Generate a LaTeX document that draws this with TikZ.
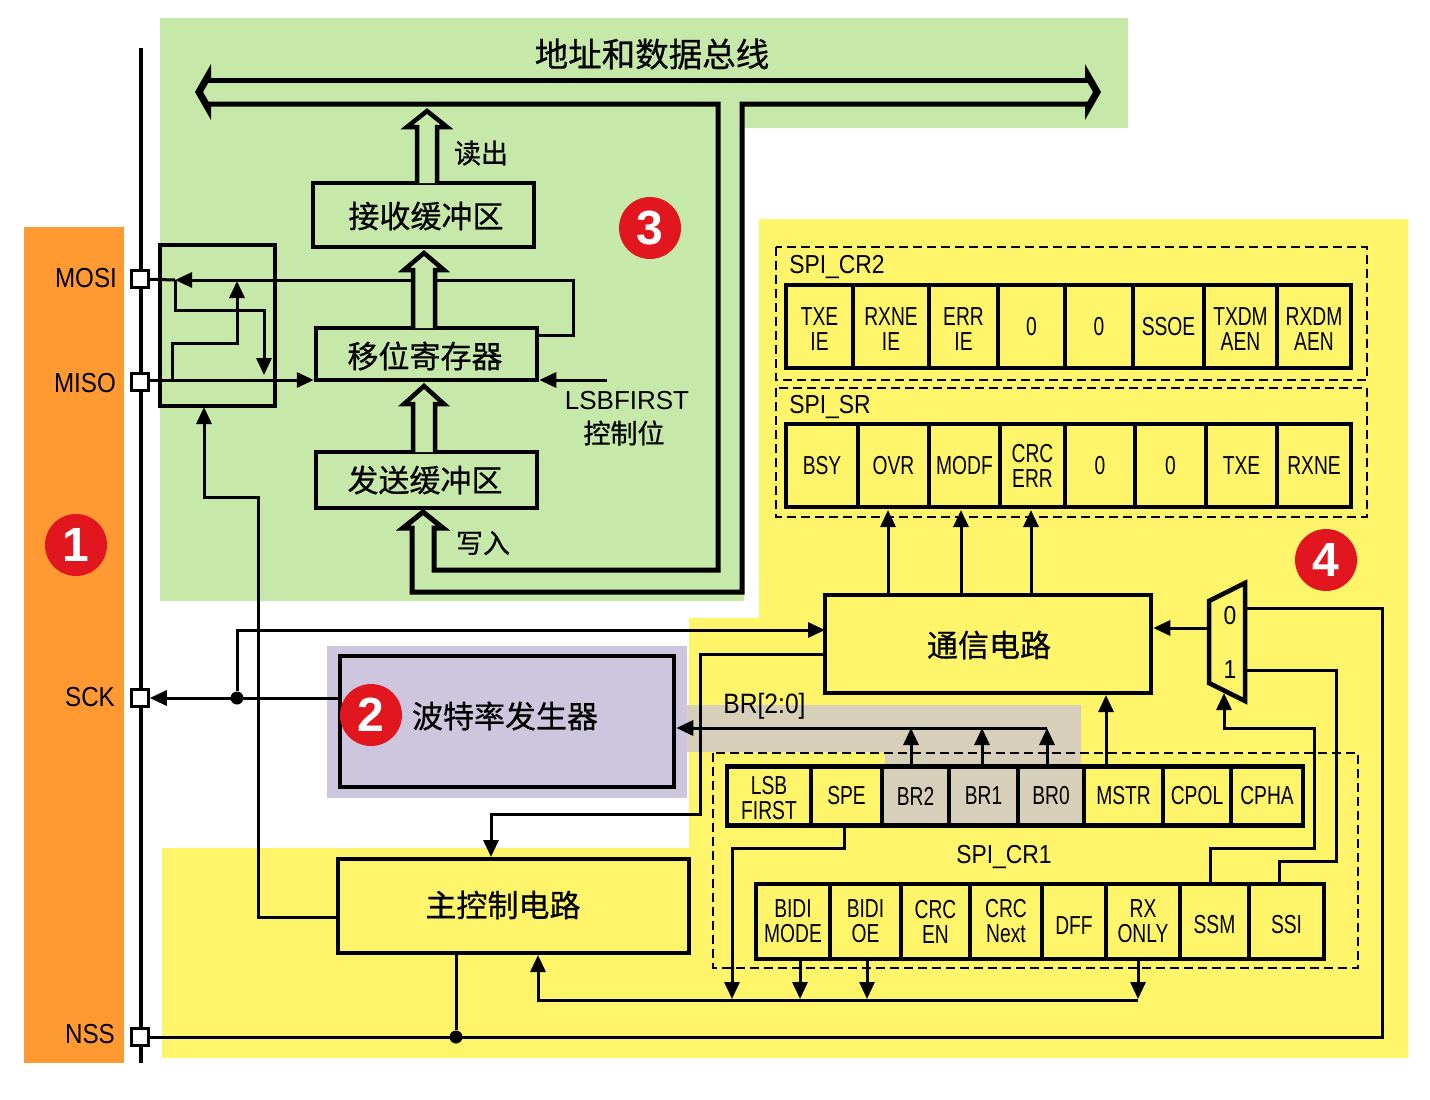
\documentclass[tikz,border=0pt]{standalone}
\usepackage{fontspec}
\usepackage{xcolor}
\usetikzlibrary{arrows.meta}
\setmainfont{Liberation Sans}
\newfontfamily\cjk[FakeBold=0.6]{Noto Sans CJK SC}
\newfontfamily\cellfont[FakeStretch=0.74]{Liberation Sans}
\newfontfamily\pinfont[FakeStretch=0.88]{Liberation Sans}
\definecolor{pinbg}{HTML}{FF9A33}
\definecolor{bufbg}{HTML}{C6E8A9}
\definecolor{regbg}{HTML}{FFF56A}
\definecolor{baudbg}{HTML}{CEC6DE}
\definecolor{brbg}{HTML}{D7CFB9}
\definecolor{badgered}{HTML}{E2161F}
\tikzset{
    >={Triangle[length=17pt,width=15pt]},
    wire/.style={line width=3pt},
    thickbox/.style={draw,line width=4.5pt,inner sep=0pt,line join=miter},
    regcell/.style={thickbox,align=center,font=\cellfont\fontsize{26}{25}\selectfont},
    pinbox/.style={draw,line width=2.5pt,fill=white,minimum size=17pt,inner sep=0pt},
    joindot/.style={circle,fill=black,minimum size=13pt,inner sep=0pt},
    badge/.style={circle,fill=badgered,text=white,minimum size=62pt,inner sep=0pt,font=\bfseries\fontsize{48}{48}\selectfont},
    pinlabel/.style={font=\pinfont\fontsize{27.5}{27.5}\selectfont},
    cjklabel/.style={font=\cjk\fontsize{31}{31}\selectfont},
    cjksmall/.style={font=\cjk\fontsize{27}{27}\selectfont},
    reglabel/.style={font=\pinfont\fontsize{26}{26}\selectfont},
    dashbox/.style={draw,dashed,line width=2.2pt,dash pattern=on 9pt off 5pt},
}
\begin{document}
\begin{tikzpicture}[x=1pt,y=-1pt]
    \useasboundingbox (0,0) rectangle (1430,1100);

    \fill[pinbg] (24,227) rectangle (124,1063);
    \fill[bufbg] (160,18) -- (1128,18) -- (1128,128) -- (744,128) -- (744,601) -- (160,601) -- cycle;
    \fill[regbg] (759,219) -- (1408,219) -- (1408,1058) -- (162,1058) -- (162,848) -- (689,848) -- (689,618) -- (759,618) -- cycle;
    \fill[baudbg] (327,646) rectangle (687,798);
    \fill[brbg] (687,705) -- (1081,705) -- (1081,770) -- (885,770) -- (885,752) -- (687,752) -- cycle;

    \draw[line width=3.5pt] (141,48) -- (141,1063);

    \node[pinbox] (mosi) at (140,279) {};
    \node[pinbox] (miso) at (140,382) {};
    \node[pinbox] (sck) at (140,698) {};
    \node[pinbox] (nss) at (140,1037) {};
    \node[pinlabel] (mosilabel) at (86,278) {MOSI};
    \node[pinlabel] (misolabel) at (85,383) {MISO};
    \node[pinlabel] (scklabel) at (90,697) {SCK};
    \node[pinlabel] (nsslabel) at (90,1034) {NSS};

    \node[thickbox,minimum width=221pt,minimum height=64pt] (rxbuf) at (423.5,215) {};
    \node[thickbox,minimum width=221pt,minimum height=52pt] (shiftreg) at (426.5,354) {};
    \node[thickbox,minimum width=221pt,minimum height=56pt] (txbuf) at (426.5,480) {};
    \node[thickbox,minimum width=115pt,minimum height=161pt] (pinmux) at (217.5,325.5) {};
    \node[thickbox,minimum width=334pt,minimum height=131pt] (baud) at (507,721.5) {};
    \node[thickbox,minimum width=351pt,minimum height=94pt] (mainctrl) at (513.5,906) {};
    \node[thickbox,minimum width=326pt,minimum height=98pt] (comm) at (988,644) {};

    \node[cjklabel] (rxtext) at (426,216) {接收缓冲区};
    \node[cjklabel] (shifttext) at (425,356) {移位寄存器};
    \node[cjklabel] (txtext) at (425,480) {发送缓冲区};
    \node[cjklabel] (baudtext) at (505,716) {波特率发生器};
    \node[cjklabel] (maintext) at (503,905) {主控制电路};
    \node[cjklabel] (commtext) at (989,645) {通信电路};
    \node[font=\cjk\fontsize{33.5}{33.5}\selectfont] (bustext) at (652,54) {地址和数据总线};
    \node[cjksmall] (readtext) at (481,153) {读出};
    \node[cjksmall] (writetext) at (483,543) {写入};
    \node[font=\fontsize{26}{26}\selectfont] (lsbtext) at (627,401) {LSBFIRST};
    \node[cjksmall] (lsbctext) at (624,433) {控制位};

    \coordinate (fbk) at (573,335);
    \coordinate (mosijoin) at (175,280);
    \coordinate (mosiroute) at (264,310);
    \coordinate (muxdown) at (264,375);
    \coordinate (misoroute) at (172,343);
    \coordinate (misotap) at (172,380);
    \coordinate (muxup) at (237,281);
    \coordinate (lsbin) at (607,380);
    \coordinate (ctrlout) at (338,917);
    \coordinate (muxroute) at (258,497);
    \coordinate (muxin) at (204,407);
    \coordinate (commin) at (825,630);
    \coordinate (commout) at (825,654);
    \coordinate (ctrlroute) at (700,814);
    \coordinate (maintap) at (491,857);

    \draw[wire,->] (shiftreg.east |- fbk) -- (fbk) |- (mosijoin);
    \draw[wire] (mosi) -- (mosijoin);
    \draw[wire,->] (mosijoin) |- (mosiroute) -- (muxdown);
    \draw[wire,->] (misotap) -- (misoroute) -| (muxup);
    \draw[wire,->] (miso.east |- misotap) -- (shiftreg.west |- misotap);
    \draw[wire,->] (lsbin) -- (shiftreg.east |- lsbin);
    \draw[wire,->] (ctrlout) -| (muxroute) -| (muxin);
    \draw[wire,->] (baud.west |- sck) -- (sck.east);
    \node[joindot] (sckdot) at (237,698) {};
    \draw[wire,->] (sckdot) |- (commin);
    \draw[wire,->] (commout) -| (ctrlroute) -| (maintap);

    \foreach \cx/\ty/\by/\ey/\hw in {427/111/127/183/10,424/253/270/328/11,424/386/404/452/11}{
        \draw[line width=4.5pt,fill=bufbg] (\cx-\hw,\ey) -- (\cx-\hw,\by) -- (\cx-20,\by) -- (\cx,\ty) -- (\cx+20,\by) -- (\cx+\hw,\by) -- (\cx+\hw,\ey);
    }
    \fill (211,64) -- (195,92) -- (211,120) -- (211,106) -- (203,92) -- (211,78) -- cycle;
    \fill (1085,64) -- (1101,92) -- (1085,120) -- (1085,106) -- (1093,92) -- (1085,78) -- cycle;
    \draw[line width=5pt] (208,80) -- (1088,80);
    \draw[line width=5pt] (208,104) -- (718,104) -- (718,570) -- (434,570) -- (434,528) -- (443,528) -- (423,512) -- (403,528) -- (412,528) -- (412,592) -- (742,592) -- (742,104) -- (1088,104);

    \draw[dashbox] (776,247) rectangle (1367,380);
    \draw[dashbox] (776,388) rectangle (1367,517);
    \draw[dashbox] (713,753) rectangle (1358,968);
    \node[reglabel] (crtwotext) at (837,267) {SPI\_CR2};
    \node[reglabel] (srtext) at (830,407) {SPI\_SR};
    \node[reglabel] (cronetext) at (1004,857) {SPI\_CR1};
    \node[reglabel,font=\pinfont\fontsize{28}{28}\selectfont] (brtext) at (764.5,706) {BR[2:0]};

    \foreach \cellname/\xa/\xb/\celltext in {txeie/786/853/{\rule{0pt}{23pt}TXE\\IE},rxneie/853/929/{\rule{0pt}{23pt}RXNE\\IE},errie/929/998/{\rule{0pt}{23pt}ERR\\IE},crtwozeroa/998/1065/0,crtwozerob/1065/1133/0,ssoe/1133/1204/SSOE,txdmaen/1204/1277/{\rule{0pt}{23pt}TXDM\\AEN},rxdmaen/1277/1351/{\rule{0pt}{23pt}RXDM\\AEN}}{
        \node[regcell,fill=regbg,minimum width=\xb-\xa,minimum height=83pt] (\cellname) at ({(\xa+\xb)/2},326.5) {\celltext};
    }
    \foreach \cellname/\xa/\xb/\celltext in {bsy/786/858/BSY,ovr/858/929/OVR,modf/929/1000/MODF,crcerr/1000/1065/{CRC\\ERR},srzeroa/1065/1135/0,srzerob/1135/1206/0,txe/1206/1277/TXE,rxne/1277/1351/RXNE}{
        \node[regcell,fill=regbg,minimum width=\xb-\xa,minimum height=83pt] (\cellname) at ({(\xa+\xb)/2},465.5) {\celltext};
    }
    \foreach \cellname/\xa/\xb/\cellfill/\celltext in {lsbfirst/727/811/regbg/{\rule{0pt}{23pt}LSB\\FIRST},spe/811/882/regbg/SPE,brtwo/882/949/brbg/BR2,brone/949/1018/brbg/BR1,brzero/1018/1084/brbg/BR0,mstr/1084/1163/regbg/MSTR,cpol/1163/1231/regbg/CPOL,cpha/1231/1303/regbg/CPHA}{
        \node[regcell,fill=\cellfill,minimum width=\xb-\xa,minimum height=59pt] (\cellname) at ({(\xa+\xb)/2},796) {\celltext};
    }
    \foreach \cellname/\xa/\xb/\celltext in {bidimode/756/830/{BIDI\\MODE},bidioe/830/901/{BIDI\\OE},crcen/901/970/{CRC\\EN},crcnext/970/1042/{CRC\\Next},dff/1042/1106/{\rule{0pt}{25pt}DFF},rxonly/1106/1180/{RX\\ONLY},ssm/1180/1249/{\rule{0pt}{25pt}SSM},ssi/1249/1324/{\rule{0pt}{25pt}SSI}}{
        \node[regcell,fill=regbg,minimum width=\xb-\xa,minimum height=75pt] (\cellname) at ({(\xa+\xb)/2},921.5) {\celltext};
    }

    \coordinate (ovrtap) at (888,510);
    \coordinate (modftap) at (961,510);
    \coordinate (crctap) at (1031,510);
    \coordinate (brtwotap) at (911,728);
    \coordinate (bronetap) at (982,728);
    \coordinate (brzerotap) at (1047,728);
    \coordinate (mstrtap) at (1106,695);
    \coordinate (muxout) at (1209,628);
    \coordinate (muxzero) at (1245,608);
    \coordinate (muxone) at (1245,670);
    \coordinate (muxsel) at (1224,693);
    \coordinate (ssitap) at (1279,884);
    \coordinate (ssiroute) at (1336,861);
    \coordinate (ssmtap) at (1210,884);
    \coordinate (ssmroute) at (1314,848);
    \coordinate (spetap) at (844,825);
    \coordinate (speroute) at (732,848);
    \coordinate (spein) at (732,999);
    \coordinate (busend) at (1138,1000);
    \coordinate (mainin) at (538,955);
    \coordinate (bidimodetap) at (800,999);
    \coordinate (bidioetap) at (867,999);
    \coordinate (rxonlytap) at (1138,999);
    \coordinate (nssroute) at (1382,1037);

    \draw[wire,->] (comm.north -| ovrtap) -- (ovrtap);
    \draw[wire,->] (comm.north -| modftap) -- (modftap);
    \draw[wire,->] (comm.north -| crctap) -- (crctap);
    \draw[wire,->] (brtwo.north -| brtwotap) -- (brtwotap);
    \draw[wire,->] (brone.north -| bronetap) -- (bronetap);
    \draw[wire,->] (brzero.north -| brzerotap) -- (brzerotap);
    \draw[wire,->] (brzerotap) -- (brzerotap -| baud.east);
    \draw[wire,->] (mstr.north -| mstrtap) -- (mstrtap);
    \draw[wire,->] (muxout) -- (muxout -| comm.east);
    \draw[wire] (muxone) -| (ssiroute) -| (ssitap);
    \draw[wire,->] (ssmtap) |- (ssmroute) |- (muxsel |- brzerotap) -- (muxsel);
    \draw[wire,->] (spetap) |- (speroute) -- (spein);
    \draw[wire,->] (busend) -| (mainin);
    \draw[wire,->] (bidimode.south -| bidimodetap) -- (bidimodetap);
    \draw[wire,->] (bidioe.south -| bidioetap) -- (bidioetap);
    \draw[wire,->] (rxonly.south -| rxonlytap) -- (rxonlytap);
    \draw[wire] (nss) -- (nssroute) |- (muxzero);
    \node[joindot] (nssdot) at (456,1037) {};
    \draw[wire] (mainctrl.south -| nssdot) -- (nssdot);

    \draw[line width=4.5pt,line join=miter] (1209,601) -- (1245,583) -- (1245,701) -- (1209,683) -- cycle;
    \node[reglabel] (muxzerotext) at (1230,616) {0};
    \node[reglabel] (muxonetext) at (1230,670) {1};

    \node[badge] (badgeone) at (76,545) {1};
    \node[badge] (badgetwo) at (371,715) {2};
    \node[badge] (badgethree) at (650,228) {3};
    \node[badge] (badgefour) at (1326,560) {4};
\end{tikzpicture}
\end{document}
